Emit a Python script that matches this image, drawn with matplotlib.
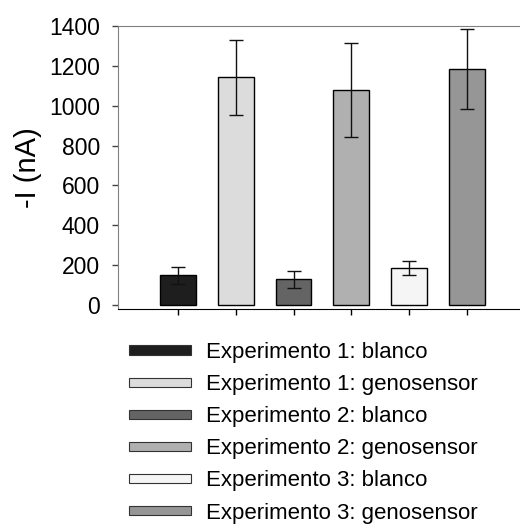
import matplotlib
matplotlib.use("Agg")
import matplotlib.pyplot as plt
from matplotlib.patches import Rectangle

plt.rcParams['font.family'] = ['Liberation Sans', 'DejaVu Sans']

# valores
labels = ["Experimento 1: blanco", "Experimento 1: genosensor",
          "Experimento 2: blanco", "Experimento 2: genosensor",
          "Experimento 3: blanco", "Experimento 3: genosensor"]
values = [150, 1142, 129, 1080, 184, 1184]
errors = [43, 190, 43, 237, 35, 200]
colors = ["#1e1e1e", "#dcdcdc", "#646464", "#b0b0b0", "#f5f5f5", "#969696"]
yticks = [0, 200, 400, 600, 800, 1000, 1200, 1400]

fig = plt.figure(figsize=(5.2, 5.29), dpi=100)
ax = fig.add_axes([118/520, 220/529, 1 - 118/520, 283/529])

x = list(range(len(values)))
ax.bar(x, values, width=0.62, color=colors, edgecolor="black", linewidth=1)
ax.errorbar(x, values, yerr=errors, fmt="none", ecolor="#111111",
            elinewidth=1, capsize=5, capthick=1)

ax.set_xlim(-1.04, 5.92)
ax.set_ylim(-20, 1400)
ax.set_xticks(x)
ax.set_xticklabels([])
ax.set_yticks(yticks)
ax.tick_params(axis="y", direction="out", length=4, width=1, pad=9,
               labelsize=16.5, color="#444444")
ax.tick_params(axis="x", direction="out", length=4, width=1, color="black")
ax.set_ylabel("-I (nA)", fontsize=21, labelpad=5)

ax.spines["right"].set_visible(False)
ax.spines["top"].set_color("#808080")
ax.spines["left"].set_color("#808080")
ax.spines["bottom"].set_color("black")

handles = [Rectangle((0, 0), 1, 1, facecolor=c, edgecolor="#333333", linewidth=0.8)
           for c in colors]
fig.legend(handles, labels, loc="upper left", bbox_to_anchor=(129/520, 1 - 342/529),
           frameon=False, fontsize=16, handlelength=2.8, handleheight=0.25,
           handletextpad=0.68, labelspacing=0.5, borderpad=0, borderaxespad=0)

fig.savefig("out.png", dpi=100)
